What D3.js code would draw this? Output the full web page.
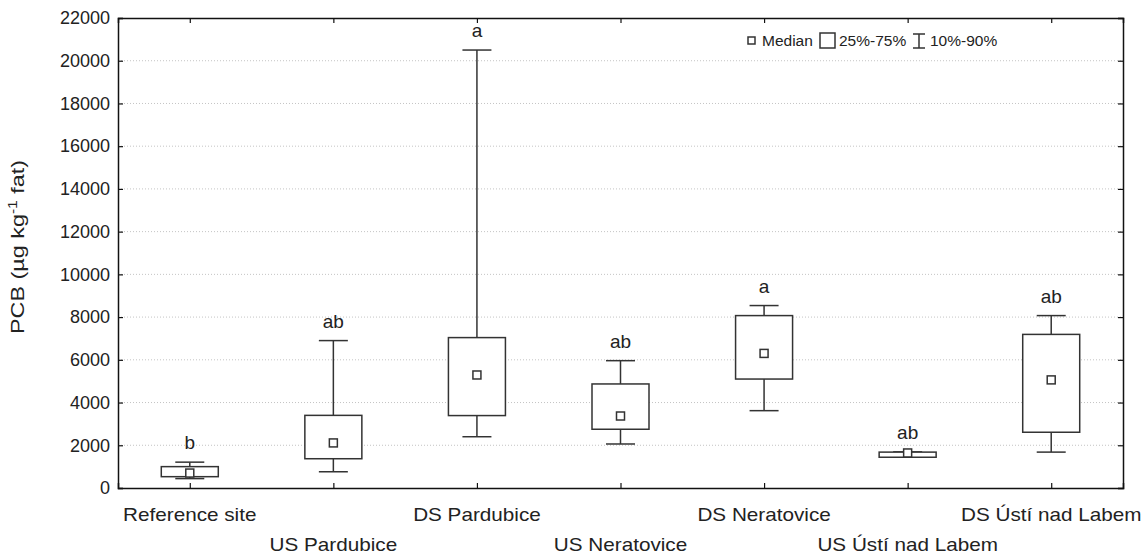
<!DOCTYPE html>
<html>
<head>
<meta charset="utf-8">
<script src="https://cdn.jsdelivr.net/npm/d3@7"></script>
<style>
body { margin:0; background:#fff; }
text { font-family: Arial, "Liberation Sans", sans-serif; fill:#222; }
</style>
</head>
<body>
<div id="chart"></div>
<script>
var width = 1144, height = 554;
var margin = {top: 18, right: 21, bottom: 66, left: 118};

// data (PCB, ug/kg fat)
var sites = ["Reference site", "US Pardubice", "DS Pardubice", "US Neratovice",
             "DS Neratovice", "US Ústí nad Labem", "DS Ústí nad Labem"];
var p10    = [440, 760, 2400, 2060, 3620, 1440, 1680];
var p25    = [530, 1370, 3390, 2750, 5100, 1440, 2610];
var median = [700, 2110, 5290, 3370, 6300, 1640, 5060];
var p75    = [1000, 3400, 7040, 4870, 8070, 1680, 7190];
var p90    = [1210, 6900, 20500, 5960, 8540, 1690, 8070];
var letters = ["b", "ab", "a", "ab", "a", "ab", "ab"];
var yTicks = d3.range(0, 22001, 2000);

var svg = d3.select("#chart").append("svg")
    .attr("width", width)
    .attr("height", height);

var iw = width - margin.left - margin.right,
    ih = height - margin.top - margin.bottom;

var g = svg.append("g").attr("transform", "translate(" + margin.left + "," + margin.top + ")");

var x = d3.scalePoint().domain(sites).range([0, iw]).padding(0.5);
var y = d3.scaleLinear().domain([0, 22000]).range([ih, 0]);

// dotted grid
g.selectAll(".grid").data(yTicks.filter(function(d) { return d > 0 && d < 22000; }))
  .enter().append("line")
    .attr("x1", 0).attr("x2", iw)
    .attr("y1", function(d) { return y(d); })
    .attr("y2", function(d) { return y(d); })
    .attr("stroke", "#c4c4c4")
    .attr("stroke-width", 1)
    .attr("stroke-dasharray", "1,2");

// axes
var axL = g.append("g").call(d3.axisLeft(y).tickValues(yTicks).tickSize(-5).tickPadding(8).tickFormat(d3.format("d")));
var axR = g.append("g").attr("transform", "translate(" + iw + ",0)")
    .call(d3.axisRight(y).tickValues(yTicks).tickSize(-5).tickFormat(""));
var axT = g.append("g").call(d3.axisTop(x).tickSize(-5).tickFormat(""));
var axB = g.append("g").attr("transform", "translate(0," + ih + ")")
    .call(d3.axisBottom(x).tickSize(-5).tickFormat(""));

[axL, axR, axT, axB].forEach(function(a) {
  a.select(".domain").attr("stroke", "#111").attr("stroke-width", 1.5);
  a.selectAll(".tick line").attr("stroke", "#111").attr("stroke-width", 1.2);
});
axL.selectAll(".tick text").attr("font-size", 18).attr("fill", "#222");

// category labels, two alternating rows (the original font is wide)
g.selectAll(".xlab").data(sites).enter().append("text")
    .attr("transform", function(d, i) {
      return "translate(" + x(d) + "," + (ih + (i % 2 ? 63 : 33)) + ") scale(1.15,1)";
    })
    .attr("text-anchor", "middle")
    .attr("font-size", 18)
    .text(function(d) { return d; });

// y label
svg.append("text")
    .attr("transform", "translate(24," + (margin.top + ih / 2 - 6) + ") rotate(-90) scale(1.3,1)")
    .attr("text-anchor", "middle")
    .attr("font-size", 18)
    .html('PCB (µg kg<tspan dy="-7" font-size="12">-1</tspan><tspan dy="7"> fat)</tspan>');

// boxes
var bw = 57, cw = 29, ms = 8;
var boxes = g.selectAll(".box").data(sites).enter().append("g")
    .attr("transform", function(d) { return "translate(" + x(d) + ",0)"; });

var stroke = "#333";
boxes.append("line")
    .attr("y1", function(d, i) { return y(p90[i]); })
    .attr("y2", function(d, i) { return y(p75[i]); })
    .attr("stroke", stroke).attr("stroke-width", 1.5);
boxes.append("line")
    .attr("y1", function(d, i) { return y(p25[i]); })
    .attr("y2", function(d, i) { return y(p10[i]); })
    .attr("stroke", stroke).attr("stroke-width", 1.5);
boxes.append("line")
    .attr("x1", -cw / 2).attr("x2", cw / 2)
    .attr("y1", function(d, i) { return y(p90[i]); })
    .attr("y2", function(d, i) { return y(p90[i]); })
    .attr("stroke", stroke).attr("stroke-width", 1.5);
boxes.append("line")
    .attr("x1", -cw / 2).attr("x2", cw / 2)
    .attr("y1", function(d, i) { return y(p10[i]); })
    .attr("y2", function(d, i) { return y(p10[i]); })
    .attr("stroke", stroke).attr("stroke-width", 1.5);
boxes.append("rect")
    .attr("x", -bw / 2).attr("width", bw)
    .attr("y", function(d, i) { return y(p75[i]); })
    .attr("height", function(d, i) { return y(p25[i]) - y(p75[i]); })
    .attr("fill", "#fff").attr("stroke", stroke).attr("stroke-width", 1.5);
boxes.append("rect")
    .attr("x", -ms / 2).attr("width", ms)
    .attr("y", function(d, i) { return y(median[i]) - ms / 2; })
    .attr("height", ms)
    .attr("fill", "#fff").attr("stroke", stroke).attr("stroke-width", 1.5);
boxes.append("text")
    .attr("text-anchor", "middle")
    .attr("y", function(d, i) { return y(Math.max(p90[i], p75[i])) - 13; })
    .attr("font-size", 19)
    .text(function(d, i) { return letters[i]; });

// legend
var lg = svg.append("g").attr("transform", "translate(748,41)");
lg.append("rect").attr("x", 0).attr("y", -4).attr("width", 7).attr("height", 7)
  .attr("fill", "#fff").attr("stroke", stroke).attr("stroke-width", 1.5);
lg.append("text").attr("x", 14).attr("y", 5).attr("font-size", 15.5).text("Median");
lg.append("rect").attr("x", 72).attr("y", -8).attr("width", 15).attr("height", 15)
  .attr("fill", "#fff").attr("stroke", stroke).attr("stroke-width", 1.5);
lg.append("text").attr("x", 91).attr("y", 5).attr("font-size", 15.5).text("25%-75%");
lg.append("path").attr("d", "M165,-7H177M171,-7V7M165,7H177")
  .attr("fill", "none").attr("stroke", stroke).attr("stroke-width", 1.5);
lg.append("text").attr("x", 182).attr("y", 5).attr("font-size", 15.5).text("10%-90%");
</script>
</body>
</html>
